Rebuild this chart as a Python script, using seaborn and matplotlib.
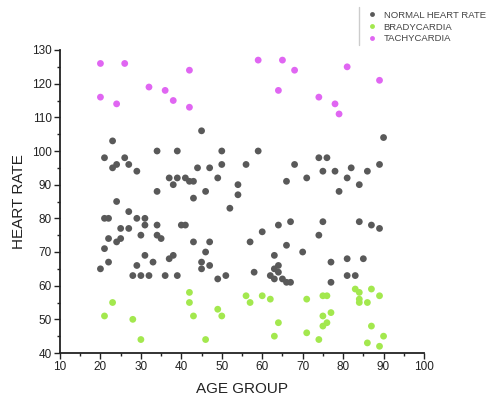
import matplotlib
matplotlib.use("Agg")
import matplotlib.pyplot as plt
import seaborn as sns
import pandas as pd
from matplotlib.lines import Line2D
from matplotlib.ticker import MultipleLocator

# ---- data ----
normal_age = [20, 21, 21, 21, 22, 22, 22, 23, 23, 24, 24, 24, 25, 25, 26, 27, 27, 27, 28, 29,
              29, 29, 30, 30, 31, 31, 31, 32, 33, 34, 34, 34, 34, 35, 36, 37, 37, 38, 38, 39,
              39, 39, 40, 41, 41, 42, 43, 43, 43, 44, 45, 45, 45, 46, 46, 47, 47, 47, 49, 49,
              50, 50, 51, 52, 54, 54, 56, 57, 58, 59, 60, 62, 63, 63, 63, 64, 64, 64, 65, 66,
              66, 66, 67, 67, 68, 70, 71, 74, 74, 75, 75, 76, 77, 77, 78, 79, 81, 81, 81, 82,
              83, 84, 84, 85, 86, 87, 89, 89, 90]
normal_hr = [65, 71, 98, 80, 80, 67, 74, 103, 95, 96, 85, 73, 77, 74, 98, 96, 82, 77, 63, 94,
             80, 66, 75, 63, 80, 78, 69, 63, 67, 100, 88, 78, 75, 74, 63, 92, 68, 90, 69, 100,
             92, 63, 78, 92, 78, 91, 91, 86, 73, 95, 106, 67, 65, 88, 70, 95, 73, 66, 92, 62,
             100, 96, 63, 83, 90, 87, 96, 73, 64, 100, 76, 63, 69, 65, 62, 78, 66, 64, 62, 91,
             72, 61, 79, 61, 96, 70, 92, 98, 75, 94, 79, 98, 67, 61, 94, 88, 92, 68, 63, 95,
             63, 90, 79, 68, 94, 78, 96, 77, 104]

brady_age = [21, 23, 28, 30, 42, 42, 43, 46, 49, 50, 56, 57, 60, 62, 63, 64, 71, 71, 74, 75,
             75, 75, 76, 76, 77, 83, 84, 84, 84, 86, 86, 87, 87, 89, 89, 90]
brady_hr = [51, 55, 50, 44, 58, 55, 51, 44, 53, 51, 57, 55, 57, 56, 45, 49, 56, 46, 44, 57,
            51, 48, 57, 49, 52, 59, 58, 56, 55, 55, 43, 59, 48, 57, 42, 45]

tachy_age = [20, 20, 24, 26, 32, 36, 38, 42, 42, 59, 64, 65, 68, 74, 78, 79, 81, 89]
tachy_hr = [126, 116, 114, 126, 119, 118, 115, 124, 113, 127, 118, 127, 124, 116, 114, 111, 125, 121]

labels = ["NORMAL HEART RATE", "BRADYCARDIA", "TACHYCARDIA"]
colors = ["#595959", "#a3e84e", "#e066f2"]

df = pd.DataFrame({
    "age": normal_age + brady_age + tachy_age,
    "hr": normal_hr + brady_hr + tachy_hr,
    "group": [labels[0]] * len(normal_age) + [labels[1]] * len(brady_age) + [labels[2]] * len(tachy_age),
})

sns.set_style("ticks")
plt.rcParams["font.family"] = ["Liberation Sans", "DejaVu Sans"]

fig = plt.figure(figsize=(4.86, 4.05), dpi=100)
ax = fig.add_axes([60 / 486, 1 - 353 / 405, 364 / 486, 303 / 405])

sns.scatterplot(data=df, x="age", y="hr", hue="group", hue_order=labels,
                palette=colors, s=24, linewidth=0, ax=ax, legend=False)

ax.set_xlim(10, 100)
ax.set_ylim(40, 130)
ax.xaxis.set_major_locator(MultipleLocator(10))
ax.xaxis.set_minor_locator(MultipleLocator(5))
ax.yaxis.set_major_locator(MultipleLocator(10))
ax.yaxis.set_minor_locator(MultipleLocator(5))
ax.tick_params(which="major", direction="out", length=4, width=1, labelsize=8.5,
               colors="#222222", pad=2)
ax.tick_params(which="minor", direction="out", length=2.5, width=1, colors="#222222")
for side in ["top", "right"]:
    ax.spines[side].set_visible(False)
for side in ["left", "bottom"]:
    ax.spines[side].set_linewidth(1.3)
    ax.spines[side].set_color("#222222")

ax.set_xlabel("AGE GROUP", fontsize=11, color="#222222", labelpad=6)
ax.set_ylabel("HEART RATE", fontsize=11, color="#222222", labelpad=4)

handles = [Line2D([0], [0], marker="o", linestyle="", markersize=3.5,
                  markerfacecolor=c, markeredgewidth=0) for c in colors]
fig.legend(handles, labels, loc="upper left", bbox_to_anchor=(362 / 486, 1 - 6 / 405),
           frameon=False, fontsize=6.8, handletextpad=0.6, labelspacing=0.3,
           handlelength=1.2, borderpad=0, labelcolor="#444444")
fig.add_artist(Line2D([359 / 486, 359 / 486], [1 - 7 / 405, 1 - 45 / 405],
                      transform=fig.transFigure, color="#cccccc", linewidth=1))

fig.savefig("out.png", dpi=100)
